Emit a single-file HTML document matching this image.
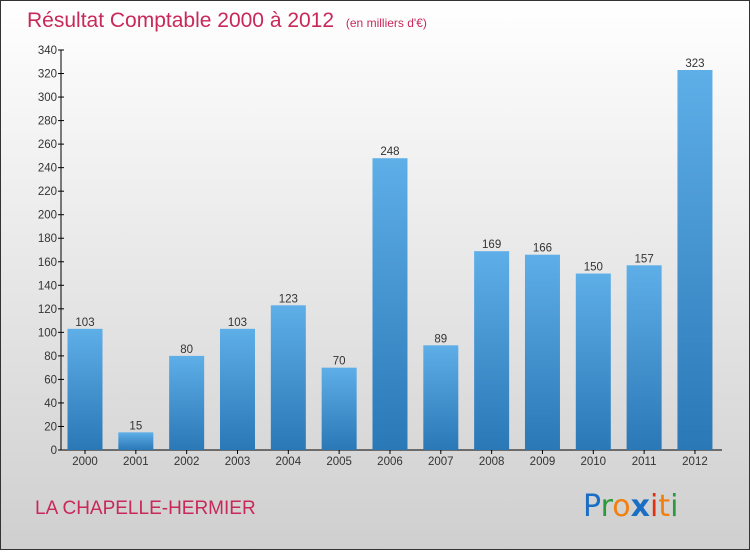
<!DOCTYPE html>
<html><head><meta charset="utf-8"><style>
body{margin:0;width:750px;height:550px;overflow:hidden;font-family:"Liberation Sans",sans-serif}
</style></head><body>
<svg id="chart" width="750" height="550" xmlns="http://www.w3.org/2000/svg">
<defs>
<linearGradient id="bg" x1="0" y1="0" x2="0" y2="1"><stop offset="0" stop-color="#ffffff"/><stop offset="1" stop-color="#cfcfcf"/></linearGradient>
<linearGradient id="bar" x1="0" y1="0" x2="0" y2="1"><stop offset="0" stop-color="#5eaee8"/><stop offset="1" stop-color="#2a78b6"/></linearGradient>
</defs>
<rect x="0.5" y="0.5" width="749" height="549" fill="url(#bg)" stroke="#333" stroke-width="1"/>
<text x="27" y="27" font-size="21" fill="#c8285a">Résultat Comptable 2000 à 2012 <tspan font-size="12" dx="6">(en milliers d'€)</tspan></text>
<text x="35" y="514" font-size="19" fill="#c8285a">LA CHAPELLE-HERMIER</text>
<g font-size="30" font-family="'DejaVu Sans',sans-serif">
<text x="583" y="516" fill="#1a6fc4">P<tspan fill="#2a9a3a">r</tspan><tspan fill="#f08010">o</tspan><tspan fill="#1a6fc4" font-weight="bold">x</tspan><tspan fill="#e03010">i</tspan><tspan fill="#f08010">t</tspan><tspan fill="#2a9a3a">i</tspan></text>
</g>
<g id="plot"></g>
</svg>
<script>
const categories=["2000","2001","2002","2003","2004","2005","2006","2007","2008","2009","2010","2011","2012"];
const values=[103,15,80,103,123,70,248,89,169,166,150,157,323];
const yTicks=[0,20,40,60,80,100,120,140,160,180,200,220,240,260,280,300,320,340];
const NS="http://www.w3.org/2000/svg";
const g=document.getElementById('plot');
const y0=450,y1=50,yMax=340,x0=62,step=50.83,bw=35;
const yS=v=>y0-(v/yMax)*(y0-y1);
const xS=i=>85+i*step;
function mk(t,a){const e=document.createElementNS(NS,t);for(const k in a)e.setAttribute(k,a[k]);g.appendChild(e);return e;}
let ax=mk('line',{x1:61,y1:y1,x2:61,y2:y0,stroke:'#000'});


let bx=mk('line',{x1:61,y1:y0,x2:722,y2:y0,stroke:'#000'});


yTicks.forEach(v=>{
 const y=yS(v);
 const t=mk('line',{x1:58,y1:y,x2:64,y2:y,stroke:'#000'});
 
 
 const l=mk('text',{x:57,y:y+4,'font-size':11.5,'text-anchor':'end',fill:'#333'});
 l.textContent=v;
 
 
});
categories.forEach((c,i)=>{
 const cx=xS(i),v=values[i],y=yS(v);
 const r=mk('rect',{x:cx-bw/2,y:y,width:bw,height:y0-y,fill:'url(#bar)'});
 
 
 const t=mk('line',{x1:cx,y1:y0,x2:cx,y2:y0+4,stroke:'#000'});
 
 
 const l=mk('text',{x:cx,y:y0+15,'font-size':11.5,'text-anchor':'middle',fill:'#333'});
 l.textContent=c;
 
 
 const vl=mk('text',{x:cx,y:y-3,'font-size':11.5,'text-anchor':'middle',fill:'#333'});
 vl.textContent=v;
 
 
});
</script>
</body></html>
